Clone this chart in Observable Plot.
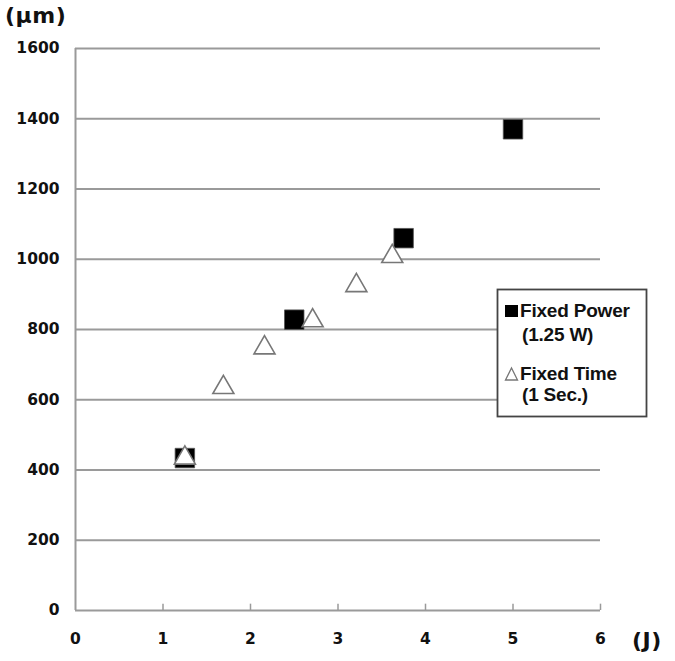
<!DOCTYPE html>
<html>
<head>
<meta charset="utf-8">
<script src="https://cdn.jsdelivr.net/npm/d3@7"></script>
<script src="https://cdn.jsdelivr.net/npm/@observablehq/plot@0.6"></script>
<style>
  html, body { margin: 0; padding: 0; background: #fff; }
  #chart { width: 675px; height: 661px; }
  svg { font-family: "Liberation Sans", Arial, sans-serif; }
</style>
</head>
<body>
<div id="chart"></div>
<script>
// Fixed Power (1.25 W)
const powerEnergy = [1.25, 2.5, 3.75, 5.0];
const powerSize   = [434, 828, 1060, 1370];
// Fixed Time (1 Sec.)
const timeEnergy = [1.25, 1.69, 2.16, 2.71, 3.21, 3.62];
const timeSize   = [434, 635, 748, 825, 925, 1008];

const xTicks = [0, 1, 2, 3, 4, 5, 6];
const yTicks = [0, 200, 400, 600, 800, 1000, 1200, 1400, 1600];

const powerData = powerEnergy.map((e, i) => ({e, s: powerSize[i]}));
const timeData = timeEnergy.map((e, i) => ({e, s: timeSize[i]}));

const gridColor = "#9a9a9a";
const tickFont = '"DejaVu Sans", sans-serif';

const plot = Plot.plot({
  width: 675,
  height: 661,
  marginLeft: 75,
  marginRight: 75,
  marginTop: 48,
  marginBottom: 51,
  style: {fontFamily: '"Liberation Sans", Arial, sans-serif', background: "#fff"},
  x: {domain: [0, 6]},
  y: {domain: [0, 1600]},
  marks: [
    Plot.ruleY(yTicks, {stroke: gridColor, strokeWidth: 2}),
    Plot.ruleX([0], {stroke: gridColor, strokeWidth: 2}),
    Plot.ruleX(xTicks.slice(1), {y1: 0, y2: 18, stroke: gridColor, strokeWidth: 1.5}),
    Plot.axisY({ticks: yTicks, tickFormat: d => String(d), tickSize: 0, tickPadding: 16, fontSize: 15.5, fontWeight: "bold", fontFamily: tickFont, fill: "#111", label: null}),
    Plot.axisX({ticks: xTicks, tickFormat: d => String(d), tickSize: 0, tickPadding: 22, fontSize: 15.5, fontWeight: "bold", fontFamily: tickFont, fill: "#111", label: null}),
    Plot.dot(powerData, {x: "e", y: "s", symbol: "square", r: 11, fill: "#000", stroke: "#555", strokeWidth: 0.8}),
    Plot.dot(timeData, {x: "e", y: "s", symbol: "triangle", r: 7.8, fill: "#fff", stroke: "#777", strokeWidth: 1.6})
  ]
});

const svg = d3.select(plot);
// axis unit labels
svg.append("text").attr("x", 5).attr("y", 23).attr("font-size", 22).attr("font-weight", "bold")
  .attr("font-family", tickFont).attr("letter-spacing", 0.5)
  .attr("text-anchor", "start").attr("fill", "#111").text("(µm)");
svg.append("text").attr("x", 632).attr("y", 648).attr("font-size", 22).attr("font-weight", "bold")
  .attr("font-family", tickFont).attr("letter-spacing", 0.5)
  .attr("text-anchor", "start").attr("fill", "#111").text("(J)");

// legend
const lg = svg.append("g").attr("text-anchor", "start");
lg.append("rect").attr("x", 497.5).attr("y", 289.5).attr("width", 149).attr("height", 127)
  .attr("fill", "#fff").attr("stroke", "#444").attr("stroke-width", 1.8);
lg.append("rect").attr("x", 505).attr("y", 305).attr("width", 13).attr("height", 12).attr("fill", "#000");
lg.append("path").attr("d", "M505.5,380 L511.5,368 L517.5,380 Z").attr("fill", "#fff").attr("stroke", "#777").attr("stroke-width", 1.3);
const lt = [
  ["Fixed Power", 520, 317],
  ["(1.25 W)", 522, 341],
  ["Fixed Time", 520, 380],
  ["(1 Sec.)", 522, 401]
];
lt.forEach(([t, x, y]) => lg.append("text").attr("x", x).attr("y", y).attr("font-size", 19)
  .attr("font-weight", "bold").attr("fill", "#111").attr("letter-spacing", -0.2).text(t));

document.getElementById("chart").appendChild(plot);
</script>
</body>
</html>
